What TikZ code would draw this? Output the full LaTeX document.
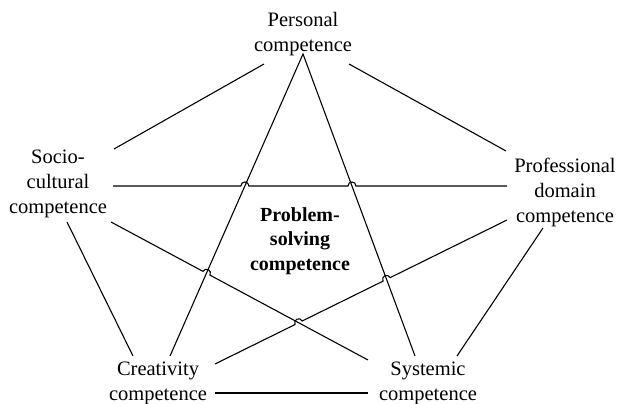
\documentclass[tikz,border=0pt]{standalone}
\usepackage{fontspec}
\setmainfont{Liberation Serif}
\usetikzlibrary{calc}
\tikzset{
  comp/.style={align=center, inner sep=0pt, font=\fontsize{20.5}{25}\selectfont},
  core/.style={align=center, inner sep=0pt, font=\fontsize{20}{24.5}\selectfont\bfseries},
  link/.style={line width=1.1pt, black},
  hop/.style={bend left=90, looseness=1.7}
}
\begin{document}
\begin{tikzpicture}[x=1pt,y=1pt]
  \useasboundingbox (0,0) rectangle (621,404);

  % Competences
  \node[comp] (per) at (303,370) {Personal\\competence};
  \node[comp] (soc) at (58,220) {Socio-\\cultural\\competence};
  \node[comp] (pro) at (565,212) {Professional\\domain\\competence};
  \node[comp] (cre) at (158,21) {Creativity\\competence};
  \node[comp] (sys) at (428,21) {Systemic\\competence};
  \node[core] (ps) at (300,163) {Problem-\\solving\\competence};

  % Line ends
  \coordinate (perSW) at ($(per)+(-39,-30)$);
  \coordinate (perSE) at ($(per)+(46,-30)$);
  \coordinate (perS) at ($(per)+(0,-20)$);
  \coordinate (socNE) at ($(soc)+(56,35)$);
  \coordinate (socE) at ($(soc)+(55,-2)$);
  \coordinate (socSE) at ($(soc)+(53,-38)$);
  \coordinate (socS) at ($(soc)+(9,-38)$);
  \coordinate (proNW) at ($(pro)+(-59,41)$);
  \coordinate (proW) at ($(pro)+(-58,6)$);
  \coordinate (proSW) at ($(pro)+(-58,-28)$);
  \coordinate (proS) at ($(pro)+(-22,-36)$);
  \coordinate (creNW) at ($(cre)+(-25,27)$);
  \coordinate (creN) at ($(cre)+(12,27)$);
  \coordinate (creNE) at ($(cre)+(57,19)$);
  \coordinate (creE) at ($(cre)+(57,-10)$);
  \coordinate (sysNW) at ($(sys)+(-60,23)$);
  \coordinate (sysN) at ($(sys)+(-13,27)$);
  \coordinate (sysNE) at ($(sys)+(29,27)$);
  \coordinate (sysW) at ($(sys)+(-60,-10)$);

  % Crossings with a hop
  \coordinate (xA) at (intersection of socE--proW and perS--creN);
  \coordinate (xB) at (intersection of socE--proW and perS--sysN);
  \coordinate (xC) at (intersection of socSE--sysNW and perS--creN);
  \coordinate (xD) at (intersection of creNE--proSW and perS--sysN);
  \coordinate (xE) at (intersection of creNE--proSW and socSE--sysNW);

  % Outer ring
  \draw[link] (socNE) -- (perSW);
  \draw[link] (perSE) -- (proNW);
  \draw[link] (proS) -- (sysNE);
  \draw[link] (creE) -- (sysW);
  \draw[link] (socS) -- (creNW);

  % Star
  \draw[link] (creN) -- (perS) -- (sysN);
  \draw[link] (socE) -- ($(xA)!4pt!(socE)$) to[hop] ($(xA)!4pt!(proW)$)
    -- ($(xB)!4pt!(socE)$) to[hop] ($(xB)!4pt!(proW)$) -- (proW);
  \draw[link] (socSE) -- ($(xC)!4pt!(socSE)$) to[hop] ($(xC)!4pt!(sysNW)$) -- (sysNW);
  \draw[link] (creNE) -- ($(xE)!4pt!(creNE)$) to[hop] ($(xE)!4pt!(proSW)$)
    -- ($(xD)!4pt!(creNE)$) to[hop] ($(xD)!4pt!(proSW)$) -- (proSW);
\end{tikzpicture}
\end{document}
